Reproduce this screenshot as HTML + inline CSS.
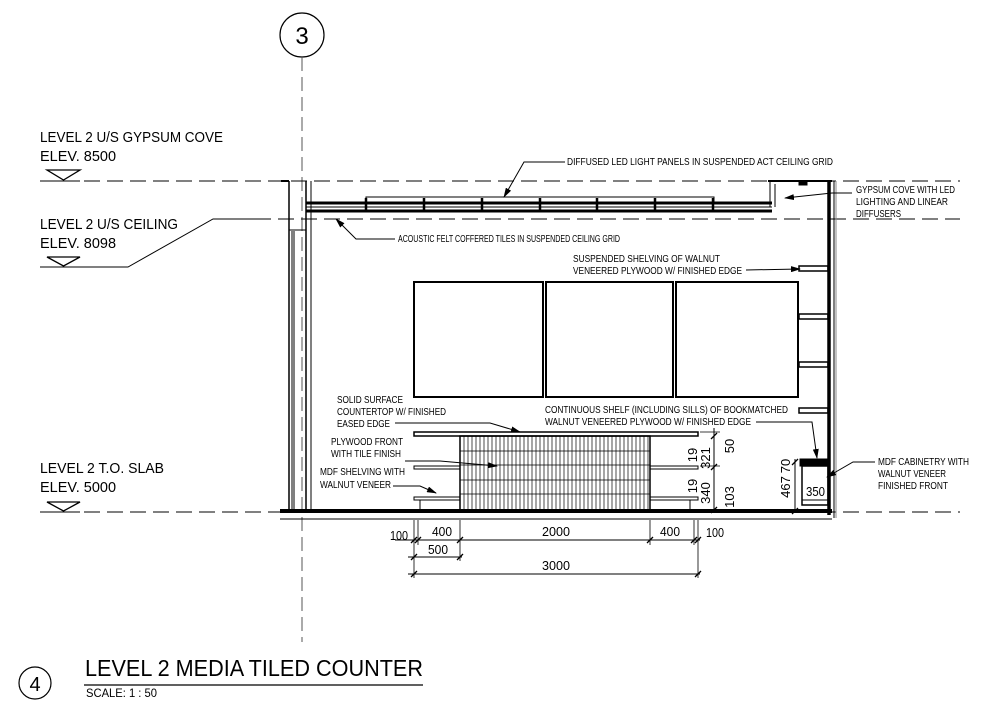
<!DOCTYPE html>
<html><head><meta charset="utf-8"><style>
html,body{margin:0;padding:0;background:#fff;}
svg{display:block;}
text{font-family:"Liberation Sans",sans-serif;fill:#000;}
.s{font-size:10px;}
.l{font-size:15px;}
</style></head><body>
<svg width="1008" height="714" viewBox="0 0 1008 714" xmlns="http://www.w3.org/2000/svg">
<defs><marker id="ar" markerWidth="10" markerHeight="6" refX="9" refY="3" orient="auto" markerUnits="userSpaceOnUse"><path d="M0,0 L10,3 L0,6z" fill="#000"/></marker></defs>
<g stroke="#000" fill="none" stroke-width="1">
<circle cx="302" cy="35" r="22" stroke-width="1.2"/>
<line x1="302" y1="57" x2="302" y2="642" stroke="#555" stroke-dasharray="14,6"/>
<line x1="40" y1="181" x2="80" y2="181"/>
<line x1="84" y1="181" x2="960" y2="181" stroke-dasharray="16,7"/>
<line x1="255" y1="219" x2="960" y2="219" stroke-dasharray="16,7"/>
<polyline points="40,267 128,267 213,219 255,219"/>
<line x1="40" y1="512" x2="80" y2="512"/>
<line x1="84" y1="512" x2="960" y2="512" stroke-dasharray="16,7"/>
<path d="M47,170 H80 L63.5,180 Z" stroke-width="1.3"/>
<path d="M47,257 H80 L63.5,266 Z" stroke-width="1.3"/>
<path d="M47,502 H80 L63.5,511 Z" stroke-width="1.3"/>
<line x1="281" y1="181" x2="289" y2="181" stroke-width="2"/>
<line x1="289" y1="181" x2="289" y2="512" stroke-width="1.5"/>
<line x1="292" y1="231" x2="292" y2="512"/>
<line x1="294" y1="231" x2="294" y2="512"/>
<line x1="289" y1="230" x2="306" y2="230"/>
<line x1="306" y1="181" x2="306" y2="512" stroke-width="1.5"/>
<line x1="311" y1="181" x2="311" y2="512"/>
<line x1="306" y1="203" x2="772" y2="203" stroke-width="3"/>
<line x1="306" y1="211" x2="772" y2="211" stroke-width="3"/>
<line x1="306" y1="207" x2="772" y2="207"/>
<rect x="366" y="197" width="348" height="6"/>
<g stroke-width="2.5">
<line x1="366" y1="198" x2="366" y2="211"/><line x1="424" y1="198" x2="424" y2="211"/><line x1="482" y1="198" x2="482" y2="211"/><line x1="540" y1="198" x2="540" y2="211"/><line x1="597" y1="198" x2="597" y2="211"/><line x1="655" y1="198" x2="655" y2="211"/><line x1="713" y1="198" x2="713" y2="211"/>
</g>
<line x1="770" y1="181" x2="770" y2="207"/><line x1="775" y1="184" x2="775" y2="207"/>
<line x1="768" y1="181" x2="832" y2="181" stroke-width="2"/>
<rect x="799" y="182" width="8" height="3" fill="#000"/>
<line x1="829" y1="181" x2="829" y2="515" stroke-width="3.5"/>
<line x1="834" y1="181" x2="834" y2="518"/>
<line x1="836" y1="181" x2="836" y2="518" stroke="#888"/>
<rect x="414" y="282" width="129" height="115" stroke-width="2"/>
<rect x="546" y="282" width="127" height="115" stroke-width="2"/>
<rect x="676" y="282" width="122" height="115" stroke-width="2"/>
<g stroke-width="1.5">
<rect x="799" y="266" width="29" height="5"/><rect x="799" y="314" width="29" height="5"/><rect x="799" y="362" width="29" height="5"/><rect x="799" y="408" width="29" height="5"/>
</g>
<rect x="414" y="432" width="284" height="4" stroke-width="1.5"/>
<rect x="414" y="466" width="46" height="3"/><rect x="650" y="466" width="48" height="3"/>
<rect x="414" y="497" width="46" height="3"/><rect x="650" y="497" width="48" height="3"/>
<line x1="420" y1="500" x2="420" y2="510"/><line x1="690" y1="500" x2="690" y2="510"/>
<rect x="460" y="436" width="190" height="74" stroke-width="1.5"/>
<path d="M464,436V510M468,436V510M472,436V510M476,436V510M480,436V510M484,436V510M488,436V510M492,436V510M496,436V510M500,436V510M504,436V510M508,436V510M512,436V510M516,436V510M520,436V510M524,436V510M528,436V510M532,436V510M536,436V510M540,436V510M544,436V510M548,436V510M552,436V510M556,436V510M560,436V510M564,436V510M568,436V510M572,436V510M576,436V510M580,436V510M584,436V510M588,436V510M592,436V510M596,436V510M600,436V510M604,436V510M608,436V510M612,436V510M616,436V510M620,436V510M624,436V510M628,436V510M632,436V510M636,436V510M640,436V510M644,436V510M648,436V510" stroke-width="0.7"/>
<path d="M460,451H650M460,465H650M460,480H650M460,494H650" stroke-width="0.7"/>
<rect x="800" y="459" width="28" height="7" fill="#000"/>
<rect x="802" y="466" width="26" height="39" stroke-width="1.5"/>
<line x1="802" y1="500" x2="828" y2="500"/>
<line x1="280" y1="511" x2="832" y2="511" stroke-width="4"/>
<line x1="280" y1="519" x2="832" y2="519"/>
<line x1="395" y1="540" x2="700" y2="540"/>
<line x1="408" y1="557" x2="462" y2="557"/>
<line x1="408" y1="574" x2="700" y2="574"/>
<path d="M414,520V578M418,520V545M460,520V561M650,520V545M694,520V545M698,520V578" stroke-width="0.8"/>
<path d="M411,543l6,-6M415,543l6,-6M457,543l6,-6M647,543l6,-6M691,543l6,-6M695,543l6,-6M411,560l6,-6M457,560l6,-6M411,577l6,-6M695,577l6,-6" stroke-width="1.3"/>
<line x1="714" y1="428" x2="714" y2="510"/>
<path d="M711,439l6,-6M711,470l6,-6M711,513l6,-6" stroke-width="1.3"/>
<path d="M700,432 H720 M700,466 H720" stroke-width="0.8"/>
<line x1="795" y1="459" x2="795" y2="511"/>
<path d="M792,465l6,-6M792,514l6,-6" stroke-width="1.3"/>
<polyline points="565,162 524,162 504,197" marker-end="url(#ar)"/>
<polyline points="395,239 356,239 336,219" marker-end="url(#ar)"/>
<polyline points="852,193 832,193 785,198" marker-end="url(#ar)"/>
<polyline points="746,270 800,269" marker-end="url(#ar)"/>
<polyline points="395,423 490,423 520,432" marker-end="url(#ar)"/>
<polyline points="405,461 440,461 497,466" marker-end="url(#ar)"/>
<polyline points="393,486 420,486 436,493" marker-end="url(#ar)"/>
<polyline points="756,422 812,422 817,458" marker-end="url(#ar)"/>
<polyline points="875,462 853,462 827,477" marker-end="url(#ar)"/>
</g>
<circle cx="35" cy="683" r="16" fill="none" stroke="#000" stroke-width="1.2"/>
<text x="302" y="44" font-size="24" text-anchor="middle">3</text>
<text x="35" y="691" font-size="20" text-anchor="middle">4</text>
<text x="85" y="676" font-size="23" textLength="338" lengthAdjust="spacingAndGlyphs">LEVEL 2 MEDIA TILED COUNTER</text>
<line x1="84" y1="685" x2="423" y2="685" stroke="#000" stroke-width="1.2"/>
<text x="86" y="697" font-size="12" textLength="71" lengthAdjust="spacingAndGlyphs">SCALE:  1 : 50</text>
<text x="40" y="142" class="l" textLength="183" lengthAdjust="spacingAndGlyphs">LEVEL 2 U/S GYPSUM COVE</text>
<text x="40" y="161" class="l" textLength="76" lengthAdjust="spacingAndGlyphs">ELEV. 8500</text>
<text x="40" y="229" class="l" textLength="138" lengthAdjust="spacingAndGlyphs">LEVEL 2 U/S CEILING</text>
<text x="40" y="248" class="l" textLength="76" lengthAdjust="spacingAndGlyphs">ELEV. 8098</text>
<text x="40" y="473" class="l" textLength="124" lengthAdjust="spacingAndGlyphs">LEVEL 2 T.O. SLAB</text>
<text x="40" y="492" class="l" textLength="76" lengthAdjust="spacingAndGlyphs">ELEV. 5000</text>
<text x="567" y="165" class="s" textLength="266" lengthAdjust="spacingAndGlyphs">DIFFUSED LED LIGHT PANELS IN SUSPENDED ACT CEILING GRID</text>
<text x="398" y="242" class="s" textLength="222" lengthAdjust="spacingAndGlyphs">ACOUSTIC FELT COFFERED TILES IN SUSPENDED CEILING GRID</text>
<text x="856" y="193" class="s" textLength="99" lengthAdjust="spacingAndGlyphs">GYPSUM COVE WITH LED</text>
<text x="856" y="205" class="s" textLength="92" lengthAdjust="spacingAndGlyphs">LIGHTING AND LINEAR</text>
<text x="856" y="217" class="s" textLength="45" lengthAdjust="spacingAndGlyphs">DIFFUSERS</text>
<text x="573" y="262" class="s" textLength="147" lengthAdjust="spacingAndGlyphs">SUSPENDED SHELVING OF WALNUT</text>
<text x="573" y="274" class="s" textLength="169" lengthAdjust="spacingAndGlyphs">VENEERED PLYWOOD W/ FINISHED EDGE</text>
<text x="337" y="403" class="s" textLength="66" lengthAdjust="spacingAndGlyphs">SOLID SURFACE</text>
<text x="337" y="415" class="s" textLength="109" lengthAdjust="spacingAndGlyphs">COUNTERTOP W/ FINISHED</text>
<text x="337" y="427" class="s" textLength="53" lengthAdjust="spacingAndGlyphs">EASED EDGE</text>
<text x="331" y="445" class="s" textLength="72" lengthAdjust="spacingAndGlyphs">PLYWOOD FRONT</text>
<text x="331" y="457" class="s" textLength="70" lengthAdjust="spacingAndGlyphs">WITH TILE FINISH</text>
<text x="320" y="475" class="s" textLength="85" lengthAdjust="spacingAndGlyphs">MDF SHELVING WITH</text>
<text x="320" y="488" class="s" textLength="71" lengthAdjust="spacingAndGlyphs">WALNUT VENEER</text>
<text x="545" y="413" class="s" textLength="243" lengthAdjust="spacingAndGlyphs">CONTINUOUS SHELF (INCLUDING SILLS) OF BOOKMATCHED</text>
<text x="545" y="425" class="s" textLength="206" lengthAdjust="spacingAndGlyphs">WALNUT VENEERED PLYWOOD W/ FINISHED EDGE</text>
<text x="878" y="465" class="s" textLength="91" lengthAdjust="spacingAndGlyphs">MDF CABINETRY WITH</text>
<text x="878" y="477" class="s" textLength="68" lengthAdjust="spacingAndGlyphs">WALNUT VENEER</text>
<text x="878" y="489" class="s" textLength="70" lengthAdjust="spacingAndGlyphs">FINISHED FRONT</text>
<g font-size="13">
<text x="390" y="540" textLength="18" lengthAdjust="spacingAndGlyphs">100</text><text x="432" y="536" textLength="20" lengthAdjust="spacingAndGlyphs">400</text><text x="542" y="536" textLength="28" lengthAdjust="spacingAndGlyphs">2000</text><text x="660" y="536" textLength="20" lengthAdjust="spacingAndGlyphs">400</text><text x="706" y="537" textLength="18" lengthAdjust="spacingAndGlyphs">100</text>
<text x="428" y="554" textLength="20" lengthAdjust="spacingAndGlyphs">500</text><text x="542" y="570" textLength="28" lengthAdjust="spacingAndGlyphs">3000</text>
<text x="806" y="496" textLength="19" lengthAdjust="spacingAndGlyphs">350</text>
<text transform="translate(734,446) rotate(-90)" text-anchor="middle">50</text>
<text transform="translate(710,458) rotate(-90)" text-anchor="middle">321</text>
<text transform="translate(697,455) rotate(-90)" text-anchor="middle">19</text>
<text transform="translate(697,486) rotate(-90)" text-anchor="middle">19</text>
<text transform="translate(710,493) rotate(-90)" text-anchor="middle">340</text>
<text transform="translate(734,497) rotate(-90)" text-anchor="middle">103</text>
<text transform="translate(790,466) rotate(-90)" text-anchor="middle">70</text>
<text transform="translate(790,487) rotate(-90)" text-anchor="middle">467</text>
</g>
</svg>
</body></html>
